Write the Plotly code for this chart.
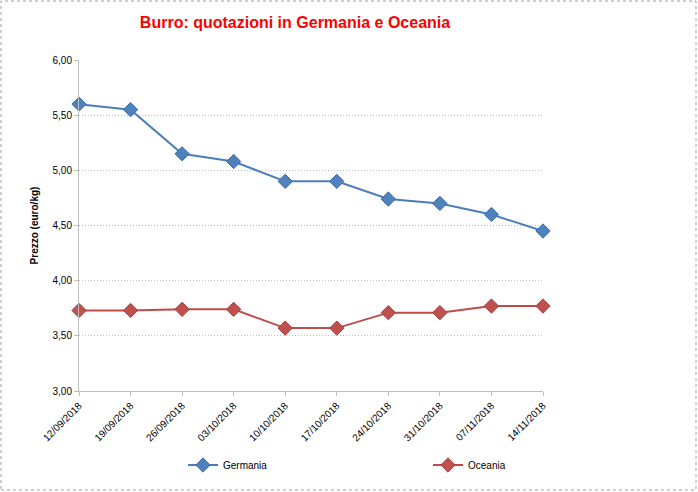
import plotly.graph_objects as go

dates = ["12/09/2018", "19/09/2018", "26/09/2018", "03/10/2018", "10/10/2018",
         "17/10/2018", "24/10/2018", "31/10/2018", "07/11/2018", "14/11/2018"]
germania = [5.60, 5.55, 5.15, 5.08, 4.90, 4.90, 4.74, 4.70, 4.60, 4.45]
oceania = [3.73, 3.73, 3.74, 3.74, 3.57, 3.57, 3.71, 3.71, 3.77, 3.77]

W, H = 698, 492
L, R, T, B = 79, 155, 60, 101
pw, ph = W - L - R, H - T - B

fig = go.Figure()
fig.add_trace(go.Scatter(
    x=dates, y=germania, name="Germania", mode="lines+markers",
    line=dict(color="#4A7EBB", width=2),
    marker=dict(symbol="diamond", size=11, color="#4F81BD", line=dict(color="#3A6AA8", width=1)),
    cliponaxis=False, legend="legend"))
fig.add_trace(go.Scatter(
    x=dates, y=oceania, name="Oceania", mode="lines+markers",
    line=dict(color="#BE4B48", width=2),
    marker=dict(symbol="diamond", size=11, color="#C0504D", line=dict(color="#A33E3B", width=1)),
    cliponaxis=False, legend="legend2"))

leg_y = -(465 - (T + ph)) / ph
fig.update_layout(
    width=W, height=H,
    margin=dict(l=L, r=R, t=T, b=B),
    paper_bgcolor="white", plot_bgcolor="white",
    separators=",.",
    font=dict(family="Liberation Sans, Arial, sans-serif", size=10, color="#000000"),
    title=dict(text="<b>Burro: quotazioni in Germania e Oceania</b>",
               font=dict(size=16, color="#FF0000", family="Liberation Sans, Arial, sans-serif"),
               x=295 / W, xanchor="center", y=1 - 22 / H, yanchor="middle"),
    showlegend=True,
    legend=dict(orientation="h", x=(183 - L) / pw, xanchor="left",
                y=leg_y, yanchor="middle", font=dict(size=10), bgcolor="rgba(0,0,0,0)"),
    legend2=dict(orientation="h", x=(428 - L) / pw, xanchor="left",
                 y=leg_y, yanchor="middle", font=dict(size=10), bgcolor="rgba(0,0,0,0)"),
    xaxis=dict(type="category", range=[0, 9], tickangle=-45, automargin=False,
               showgrid=False, showline=True, linecolor="#BFBFBF", linewidth=1,
               ticks="outside", ticklen=4, tickcolor="#BFBFBF",
               tickfont=dict(size=10)),
    yaxis=dict(range=[3, 6], dtick=0.5, tickformat=".2f", automargin=False,
               showgrid=True, gridcolor="#BFBFBF", griddash="1px,2px", gridwidth=1,
               showline=True, linecolor="#BFBFBF", linewidth=1,
               ticks="outside", ticklen=4, tickcolor="#BFBFBF",
               tickfont=dict(size=10), zeroline=False,
               title=dict(text="<b>Prezzo (euro/kg)</b>", font=dict(size=10), standoff=12)),
)

# chart-area dashed border
fig.add_shape(type="rect", xref="paper", yref="paper",
              x0=-(L - 1) / pw, x1=1 + (R - 2) / pw,
              y0=-(B - 2) / ph, y1=1 + (T - 1) / ph,
              line=dict(color="#A0A0A0", width=1, dash="dot"), fillcolor="rgba(0,0,0,0)",
              layer="below")

fig.write_html("out.html")
